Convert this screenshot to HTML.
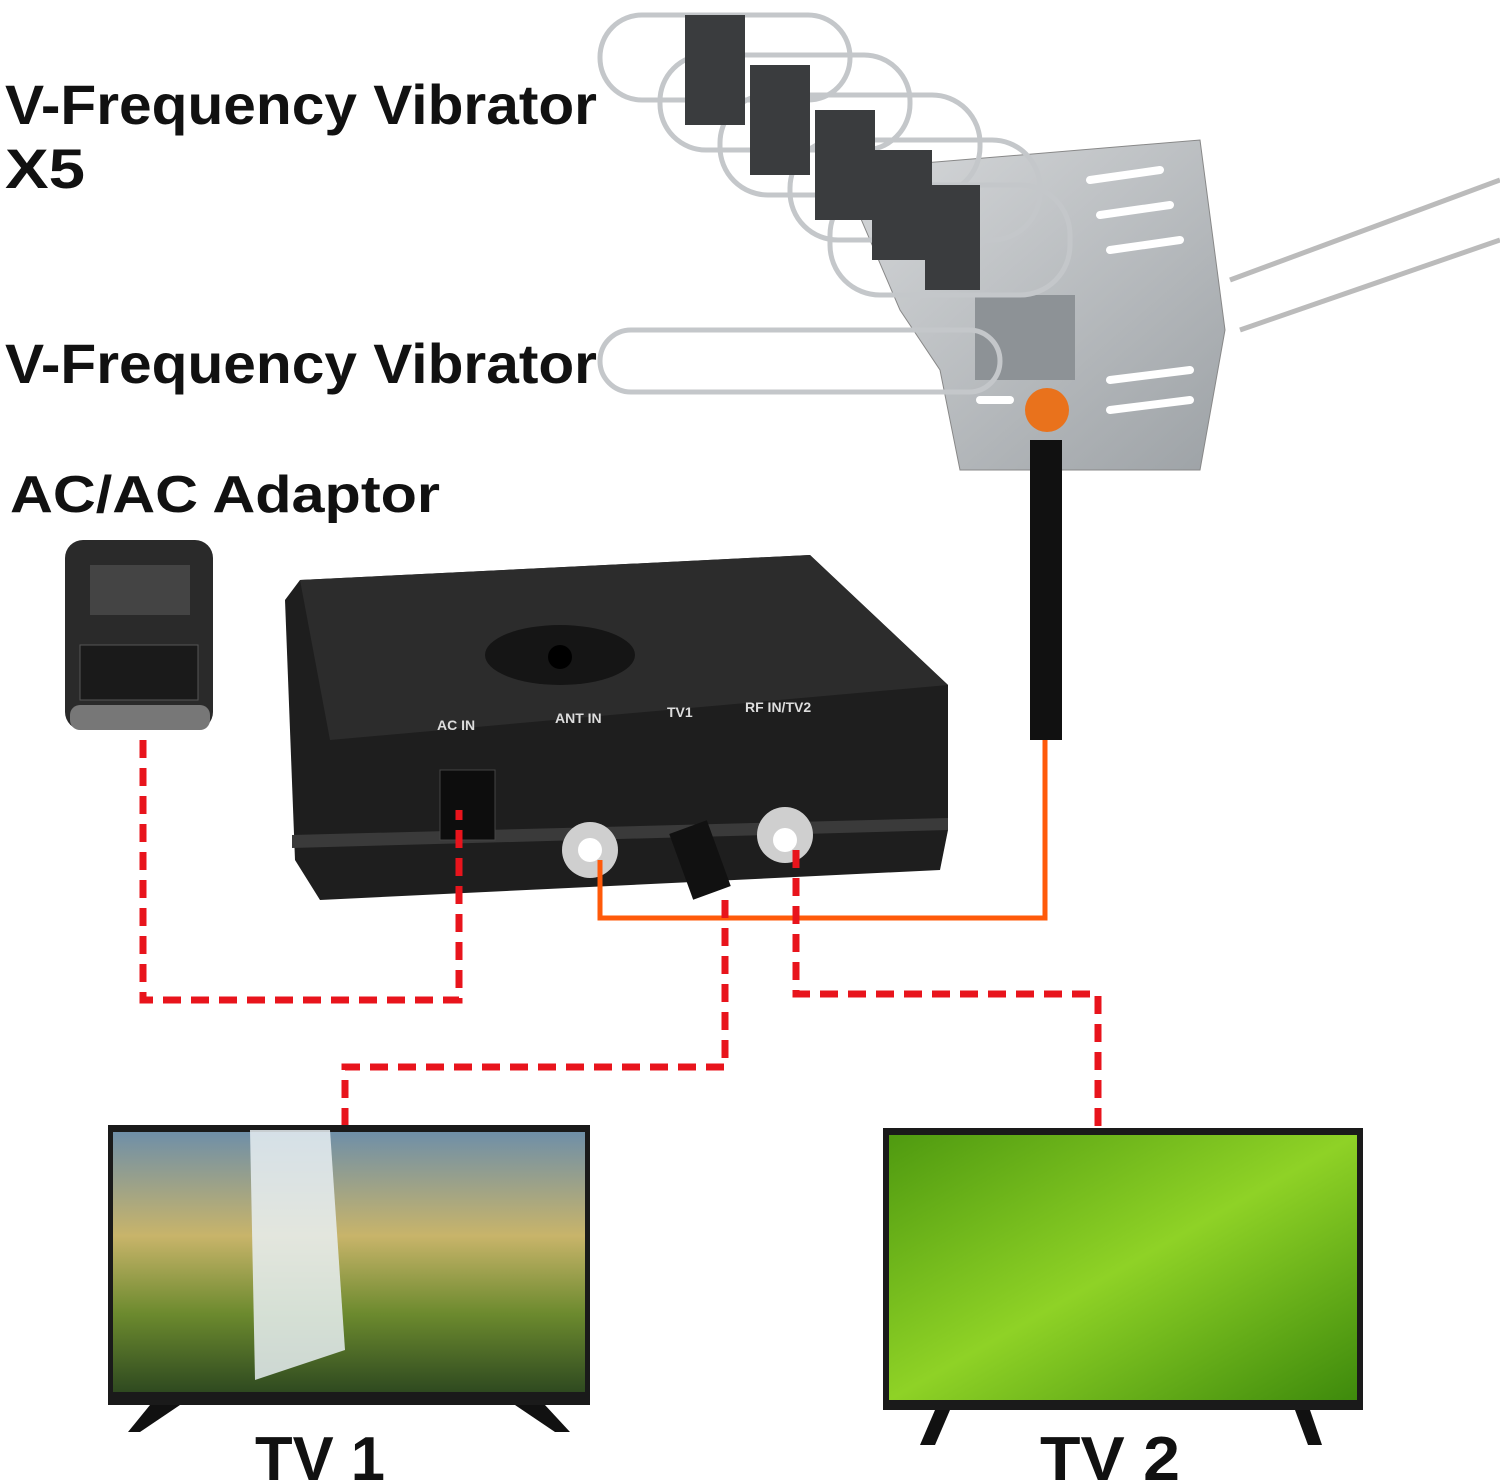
<!DOCTYPE html>
<html><head><meta charset="utf-8"><style>
body{margin:0;background:#fff;}
svg{display:block}
</style></head><body>
<svg width="1500" height="1482" viewBox="0 0 1500 1482" xmlns="http://www.w3.org/2000/svg">
<defs>
<linearGradient id="tv1" x1="0" y1="0" x2="0" y2="1">
<stop offset="0" stop-color="#6f8fa8"/><stop offset="0.4" stop-color="#c8b46a"/><stop offset="0.7" stop-color="#6c8a2e"/><stop offset="1" stop-color="#2f4a20"/></linearGradient>
<linearGradient id="tv2" x1="0" y1="0" x2="1" y2="1">
<stop offset="0" stop-color="#4f9a10"/><stop offset="0.5" stop-color="#8fd226"/><stop offset="1" stop-color="#3e8a0c"/></linearGradient>
<linearGradient id="plate" x1="0" y1="0" x2="1" y2="1">
<stop offset="0" stop-color="#d8dadc"/><stop offset="1" stop-color="#9da2a6"/></linearGradient>
</defs>
<g font-family="Liberation Sans, sans-serif" font-weight="bold" fill="#111">
<text x="5" y="124" font-size="56" textLength="592" lengthAdjust="spacingAndGlyphs">V-Frequency Vibrator</text>
<text x="5" y="188" font-size="56" textLength="80" lengthAdjust="spacingAndGlyphs">X5</text>
<text x="5" y="383" font-size="56" textLength="592" lengthAdjust="spacingAndGlyphs">V-Frequency Vibrator</text>
<text x="10" y="512" font-size="52" textLength="430" lengthAdjust="spacingAndGlyphs">AC/AC Adaptor</text>
<text x="255" y="1480" font-size="62" textLength="130" lengthAdjust="spacingAndGlyphs">TV 1</text>
<text x="1040" y="1480" font-size="62" textLength="140" lengthAdjust="spacingAndGlyphs">TV 2</text>
</g>
<polygon points="840,170 1200,140 1225,330 1200,470 960,470 940,370 900,310" fill="url(#plate)" stroke="#888"/>
<g stroke="#fff" stroke-width="8" stroke-linecap="round">
<line x1="1090" y1="180" x2="1160" y2="170"/><line x1="1100" y1="215" x2="1170" y2="205"/><line x1="1110" y1="250" x2="1180" y2="240"/>
<line x1="1110" y1="380" x2="1190" y2="370"/><line x1="1110" y1="410" x2="1190" y2="400"/><line x1="980" y1="400" x2="1010" y2="400"/>
</g>
<line x1="1230" y1="280" x2="1500" y2="180" stroke="#bbb" stroke-width="5"/>
<line x1="1240" y1="330" x2="1500" y2="240" stroke="#bbb" stroke-width="5"/>
<rect x="975" y="295" width="100" height="85" fill="#8d9296"/>
<circle cx="1047" cy="410" r="22" fill="#e9721c"/>
<g fill="none" stroke="#c4c7ca" stroke-width="5">
<rect x="600" y="15" width="250" height="85" rx="42"/>
<rect x="660" y="55" width="250" height="95" rx="46"/>
<rect x="720" y="95" width="260" height="100" rx="48"/>
<rect x="790" y="140" width="250" height="100" rx="48"/>
<rect x="830" y="185" width="240" height="110" rx="50"/>
<rect x="600" y="330" width="400" height="62" rx="31"/>
</g>
<g fill="#3a3c3e">
<rect x="685" y="15" width="60" height="110"/><rect x="750" y="65" width="60" height="110"/>
<rect x="815" y="110" width="60" height="110"/><rect x="872" y="150" width="60" height="110"/>
<rect x="925" y="185" width="55" height="105"/>
</g>
<rect x="1030" y="440" width="32" height="300" fill="#111"/>
<rect x="65" y="540" width="148" height="190" rx="18" fill="#2a2a2a"/>
<rect x="70" y="705" width="140" height="25" rx="10" fill="#777"/>
<rect x="80" y="645" width="118" height="55" fill="#1a1a1a" stroke="#555"/>
<rect x="90" y="565" width="100" height="50" fill="#444"/>
<path d="M300,580 L810,555 L948,685 L948,830 L940,870 L320,900 L295,860 L285,600 Z" fill="#1e1e1e"/>
<path d="M300,580 L810,555 L948,685 L330,740 Z" fill="#2c2c2c"/>
<path d="M292,835 L948,818 L948,830 L292,848 Z" fill="#3a3a3a"/>
<ellipse cx="560" cy="655" rx="75" ry="30" fill="#151515"/>
<circle cx="560" cy="657" r="12" fill="#000"/>
<g font-family="Liberation Sans, sans-serif" font-weight="bold" fill="#ddd" font-size="14">
<text x="437" y="730">AC IN</text><text x="555" y="723">ANT IN</text><text x="667" y="717">TV1</text><text x="745" y="712">RF IN/TV2</text>
</g>
<rect x="440" y="770" width="55" height="70" fill="#0d0d0d" stroke="#444"/>
<circle cx="590" cy="850" r="28" fill="#cfcfcf"/><circle cx="590" cy="850" r="12" fill="#fff"/>
<circle cx="785" cy="835" r="28" fill="#cfcfcf"/><circle cx="785" cy="840" r="12" fill="#fff"/>
<rect x="680" y="825" width="40" height="70" fill="#111" transform="rotate(-20 700 860)"/>
<polyline points="1045,740 1045,918 600,918 600,860" fill="none" stroke="#ff5a0a" stroke-width="5"/>
<g fill="none" stroke="#e8141c" stroke-width="7" stroke-dasharray="18,10">
<polyline points="143,740 143,1000 459,1000 459,810"/>
<polyline points="725,900 725,1067 345,1067 345,1125"/>
<polyline points="796,850 796,994 1098,994 1098,1128"/>
</g>
<rect x="108" y="1125" width="482" height="280" fill="#1a1a1a"/>
<rect x="113" y="1132" width="472" height="260" fill="url(#tv1)"/>
<polygon points="250,1130 330,1130 345,1350 255,1380" fill="#e8eef2" opacity="0.85"/>
<polygon points="150,1405 180,1405 140,1432 128,1432" fill="#111"/>
<polygon points="515,1405 545,1405 570,1432 555,1432" fill="#111"/>
<rect x="883" y="1128" width="480" height="282" fill="#1a1a1a"/>
<rect x="889" y="1135" width="468" height="265" fill="url(#tv2)"/>
<polygon points="935,1410 950,1410 935,1445 920,1445" fill="#111"/>
<polygon points="1295,1410 1310,1410 1322,1445 1308,1445" fill="#111"/>
</svg>
</body></html>
